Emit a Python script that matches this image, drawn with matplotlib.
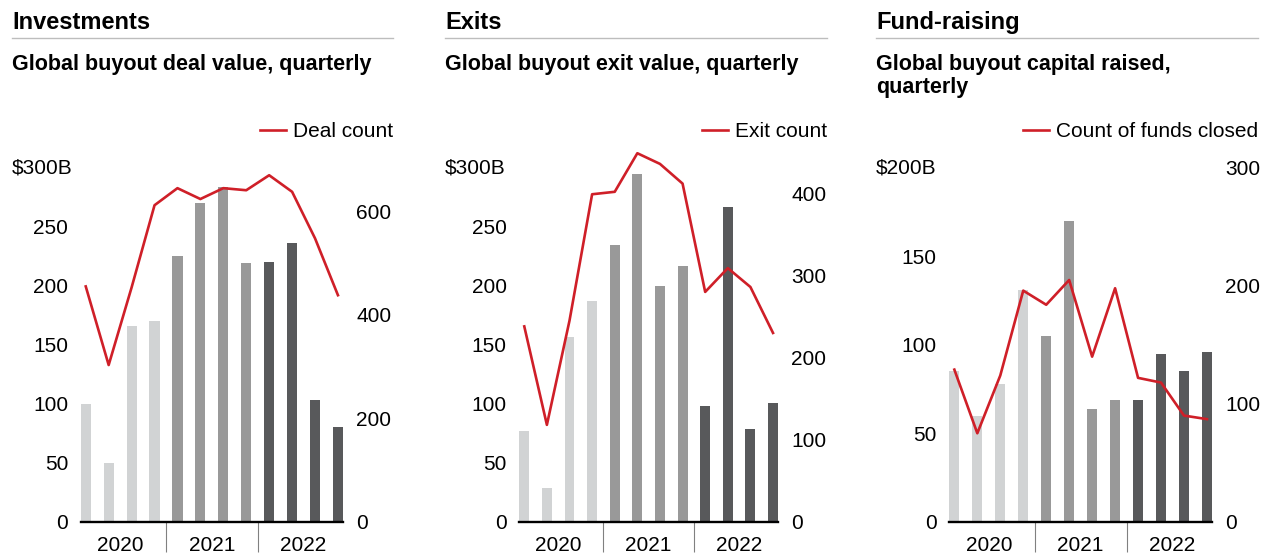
import numpy as np
import matplotlib
matplotlib.use('Agg')
import matplotlib.pyplot as plt
from matplotlib.lines import Line2D
from matplotlib.transforms import blended_transform_factory

plt.rcParams['font.family'] = ['Liberation Sans', 'DejaVu Sans']

W, H = 1267, 557

quarters = list(range(12))
years = ['2020', '2021', '2022']
bar_colors = ['#d1d3d4'] * 4 + ['#999999'] * 4 + ['#58595b'] * 4
RED = '#cf1f28'

# Investments
deal_value = [100, 50, 166, 170, 225, 270, 284, 219, 220, 236, 103, 80]
deal_count = [455, 303, 453, 612, 645, 624, 645, 641, 670, 638, 548, 438]

# Exits
exit_value = [77, 29, 157, 187, 235, 295, 200, 217, 98, 267, 79, 101]
exit_count = [238, 118, 245, 399, 402, 449, 436, 412, 280, 309, 286, 230]

# Fund-raising
capital_raised = [85, 60, 78, 131, 105, 170, 64, 69, 69, 95, 85, 96]
funds_closed = [129, 75, 124, 196, 184, 205, 140, 198, 122, 118, 90, 87]

panels = [
    dict(title='Investments', subtitle='Global buyout deal value, quarterly', sub_y=70,
         bars=deal_value, line=deal_count, legend='Deal count',
         lticks=[0, 50, 100, 150, 200, 250], ltop=300, top_label='$300B',
         rticks=[0, 200, 400, 600], rtop=684,
         left=12, right=393, ax_left=80.7, ax_right=343),
    dict(title='Exits', subtitle='Global buyout exit value, quarterly', sub_y=70,
         bars=exit_value, line=exit_count, legend='Exit count',
         lticks=[0, 50, 100, 150, 200, 250], ltop=300, top_label='$300B',
         rticks=[0, 100, 200, 300, 400], rtop=431,
         left=445, right=827, ax_left=519.3, ax_right=778),
    dict(title='Fund-raising', subtitle='Global buyout capital raised,\nquarterly', sub_y=93,
         bars=capital_raised, line=funds_closed, legend='Count of funds closed',
         lticks=[0, 50, 100, 150], ltop=200, top_label='$200B',
         rticks=[0, 100, 200, 300], rtop=300,
         left=876, right=1258, ax_left=949.3, ax_right=1212),
]

fig = plt.figure(figsize=(W / 100, H / 100), dpi=100, facecolor='white')

ax_bottom, ax_top = 521.7, 168.0

for p in panels:
    ax = fig.add_axes([p['ax_left'] / W, 1 - ax_bottom / H,
                       (p['ax_right'] - p['ax_left']) / W, (ax_bottom - ax_top) / H])
    ax.bar(quarters, p['bars'], width=0.44, color=bar_colors, zorder=2)
    ax.set_xlim(-0.22, 11.22)
    ax.set_ylim(0, p['ltop'])
    ax.set_yticks(p['lticks'])
    for s in ['top', 'right', 'left']:
        ax.spines[s].set_visible(False)
    ax.spines['bottom'].set_linewidth(1.7)
    ax.spines['bottom'].set_color('black')
    ax.spines['bottom'].set_zorder(3)
    ax.tick_params(axis='y', length=0, pad=9, labelsize=15, colors='black')
    ax.set_xticks([1.5, 5.5, 9.5])
    ax.set_xticklabels(years)
    ax.tick_params(axis='x', which='major', length=0, pad=10, labelsize=15)
    ax.set_xticks([3.5, 7.5], minor=True)
    ax.tick_params(axis='x', which='minor', length=21.5, width=0.8, color='#808080',
                   direction='out')

    # top value label sits at the panel's left edge
    ax.text(p['left'] / W, p['ltop'], p['top_label'], fontsize=15,
            ha='left', va='center',
            transform=blended_transform_factory(fig.transFigure, ax.transData))

    ax2 = ax.twinx()
    ln, = ax2.plot(quarters, p['line'], color=RED, lw=1.9, zorder=4, clip_on=False)
    ax2.set_ylim(0, p['rtop'])
    ax2.set_yticks(p['rticks'])
    for s in ax2.spines.values():
        s.set_visible(False)
    ax2.tick_params(axis='y', length=0, pad=9.5, labelsize=15)

    # header
    fig.text(p['left'] / W, 1 - 29.3 / H, p['title'], fontsize=17, fontweight='bold',
             ha='left', va='baseline')
    fig.add_artist(Line2D([p['left'] / W, p['right'] / W], [1 - 38 / H, 1 - 38 / H],
                          color='#bdbdbd', lw=1.0, transform=fig.transFigure))
    fig.text(p['left'] / W, 1 - p['sub_y'] / H, p['subtitle'], fontsize=15.5,
             fontweight='bold', ha='left', va='baseline', linespacing=1.1)

    fig.legend(handles=[ln], labels=[p['legend']], loc='center right',
               bbox_to_anchor=(p['right'] / W, 1 - 131.5 / H), bbox_transform=fig.transFigure,
               frameon=False, fontsize=15, handlelength=1.25, handletextpad=0.35,
               borderpad=0, borderaxespad=0)

fig.savefig('out.png', dpi=100)
